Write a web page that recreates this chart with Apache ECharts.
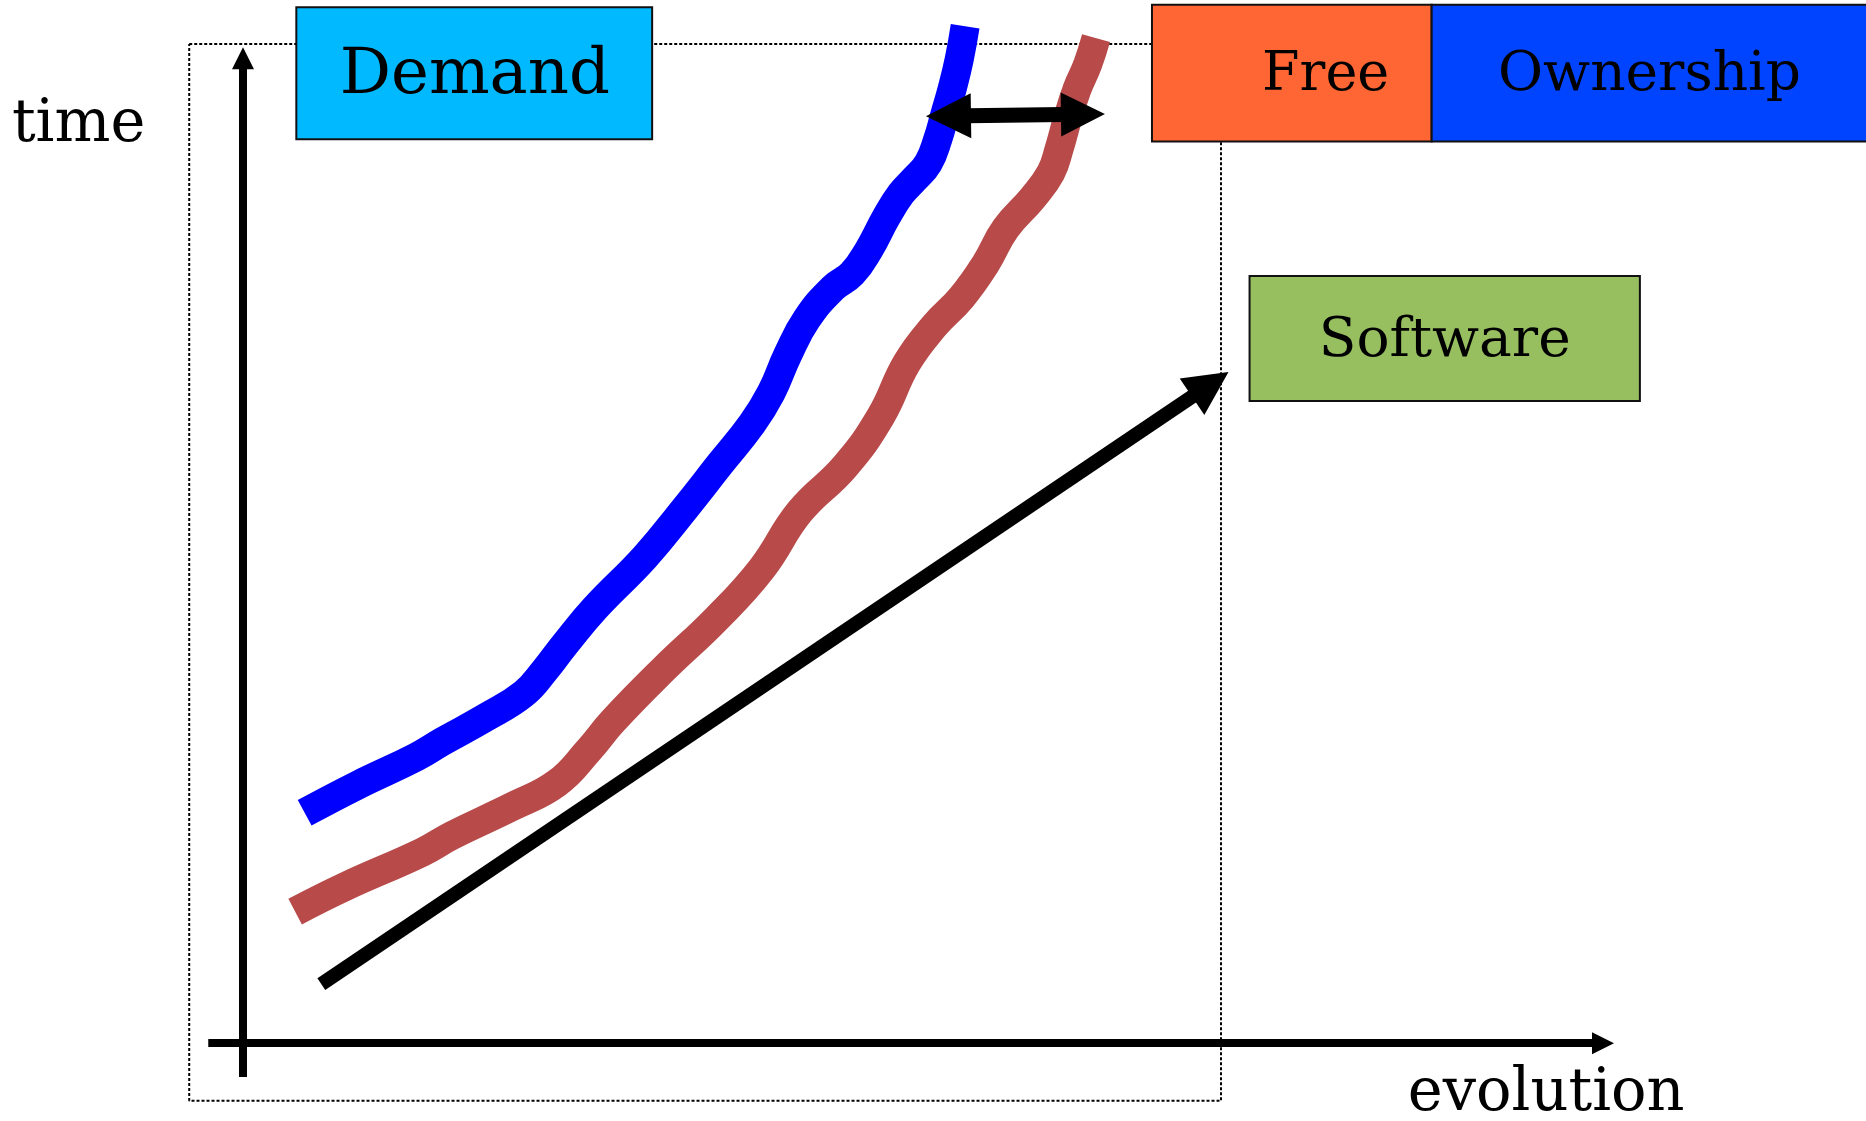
<!DOCTYPE html>
<html>
<head>
<meta charset="utf-8">
<script src="https://cdn.jsdelivr.net/npm/echarts@6/dist/echarts.min.js"></script>
<style>
  html, body { margin: 0; padding: 0; background: #fff; }
  #main { width: 1866px; height: 1121px; }
</style>
</head>
<body>
<div id="main"></div>
<script>
// coordinates are read in the 1568x942 reference units
const blueX = [256, 300, 350, 372, 408, 440, 458, 475, 500, 542, 575, 605, 632, 648, 662, 678, 700, 716, 730, 745, 757, 768, 780, 788, 794, 800, 806, 811];
const blueY = [683, 660, 636, 623, 603, 583, 563, 541, 511, 468, 428, 390, 356, 330, 298, 268, 242, 230, 210, 182, 163, 151, 137, 117, 96, 75, 50, 22];
const redX = [248, 290, 355, 380, 430, 468, 495, 515, 558, 602, 640, 672, 710, 740, 762, 785, 808, 828, 845, 868, 883, 890, 897, 905, 914, 921];
const redY = [766, 745, 716, 702, 678, 658, 630, 606, 562, 520, 478, 430, 392, 350, 305, 274, 250, 222, 192, 166, 145, 125, 100, 75, 54, 32];

// line ends sit at the centre of each arrow head
const trendLine = [[270, 827], [1017, 323]];
const gapArrow = [[797, 97.5], [910, 96]];
const timeAxisLine = [[204, 905], [204.2, 49]];
const evoAxisLine = [[175, 876.6], [1347, 876.6]];
const frame = [[159, 37], [1026, 37], [1026, 925], [159, 925], [159, 37]];

const boxNames = ['Demand', 'Free', 'Ownership', 'Software'];
const boxRect = [[249, 6, 548, 117], [968, 4, 1203, 119], [1203, 4, 1570, 119], [1050, 232, 1378, 337]];
const boxTextX = [399, 1114, 1386, 1214];
const boxFont = [64, 54, 55, 55];
const boxColors = ['#00B9FF', '#FF6633', '#0044FF', '#97BE5F'];

const axisTexts = ['time', 'evolution'];
const axisTextPos = [[10, 106], [1183, 920]];

const FONT = '"DejaVu Serif", serif';

const chart = echarts.init(document.getElementById('main'));

function zip(xs, ys) { return xs.map((x, i) => [x, ys[i]]); }

const option = {
  animation: false,
  grid: { left: 0, right: 0, top: 0, bottom: 0 },
  xAxis: { type: 'value', min: 0, max: 1568, show: false },
  yAxis: { type: 'value', min: 0, max: 942, inverse: true, show: false },
  series: [
    {
      type: 'line', z: 1, data: frame, showSymbol: false, silent: true,
      lineStyle: { color: '#000', width: 2, type: [3, 2] }
    },
    {
      type: 'line', z: 2, data: zip(blueX, blueY), showSymbol: false, smooth: 0.45,
      lineStyle: { color: '#0000FF', width: 29, cap: 'butt' }
    },
    {
      type: 'line', z: 2, data: zip(redX, redY), showSymbol: false, smooth: 0.45,
      lineStyle: { color: '#B84A4A', width: 29, cap: 'butt' }
    },
    {
      type: 'lines', coordinateSystem: 'cartesian2d', z: 3,
      symbol: ['none', 'triangle'], symbolSize: [45, 44],
      lineStyle: { color: '#000', width: 14, opacity: 1 },
      data: [{ coords: trendLine }]
    },
    {
      type: 'lines', coordinateSystem: 'cartesian2d', z: 3,
      symbol: ['triangle', 'triangle'], symbolSize: [45, 44],
      lineStyle: { color: '#000', width: 15, opacity: 1 },
      data: [{ coords: gapArrow }]
    },
    {
      type: 'lines', coordinateSystem: 'cartesian2d', z: 3,
      symbol: ['none', 'triangle'], symbolSize: [22, 22],
      lineStyle: { color: '#000', width: 8, opacity: 1 },
      data: [{ coords: timeAxisLine }]
    },
    {
      type: 'lines', coordinateSystem: 'cartesian2d', z: 3,
      symbol: ['none', 'triangle'], symbolSize: [21, 22],
      lineStyle: { color: '#000', width: 8, opacity: 1 },
      data: [{ coords: evoAxisLine }]
    },
    {
      type: 'custom', z: 4,
      data: boxRect.map((r, i) => [r[0], r[1], r[2], r[3], boxTextX[i], i]),
      renderItem: function (params, api) {
        const i = api.value(5);
        const p0 = api.coord([api.value(0), api.value(1)]);
        const p1 = api.coord([api.value(2), api.value(3)]);
        const tx = api.coord([api.value(4), 0])[0];
        return {
          type: 'group',
          children: [
            {
              type: 'rect',
              shape: { x: p0[0], y: p0[1], width: p1[0] - p0[0], height: p1[1] - p0[1] },
              style: { fill: boxColors[i], stroke: '#111', lineWidth: 2 }
            },
            {
              type: 'text',
              x: tx, y: (p0[1] + p1[1]) / 2 + 3,
              style: {
                text: boxNames[i], fill: '#000',
                font: boxFont[i] + 'px ' + FONT,
                align: 'center', verticalAlign: 'middle',
                textAlign: 'center', textVerticalAlign: 'middle'
              }
            }
          ]
        };
      }
    },
    {
      type: 'custom', z: 4,
      data: axisTextPos.map((p, i) => [p[0], p[1], i]),
      renderItem: function (params, api) {
        const p = api.coord([api.value(0), api.value(1)]);
        return {
          type: 'text', x: p[0], y: p[1],
          style: {
            text: axisTexts[api.value(2)], fill: '#000',
            font: '59px ' + FONT,
            align: 'left', verticalAlign: 'middle',
            textAlign: 'left', textVerticalAlign: 'middle'
          }
        };
      }
    }
  ]
};
chart.setOption(option);
</script>
</body>
</html>
